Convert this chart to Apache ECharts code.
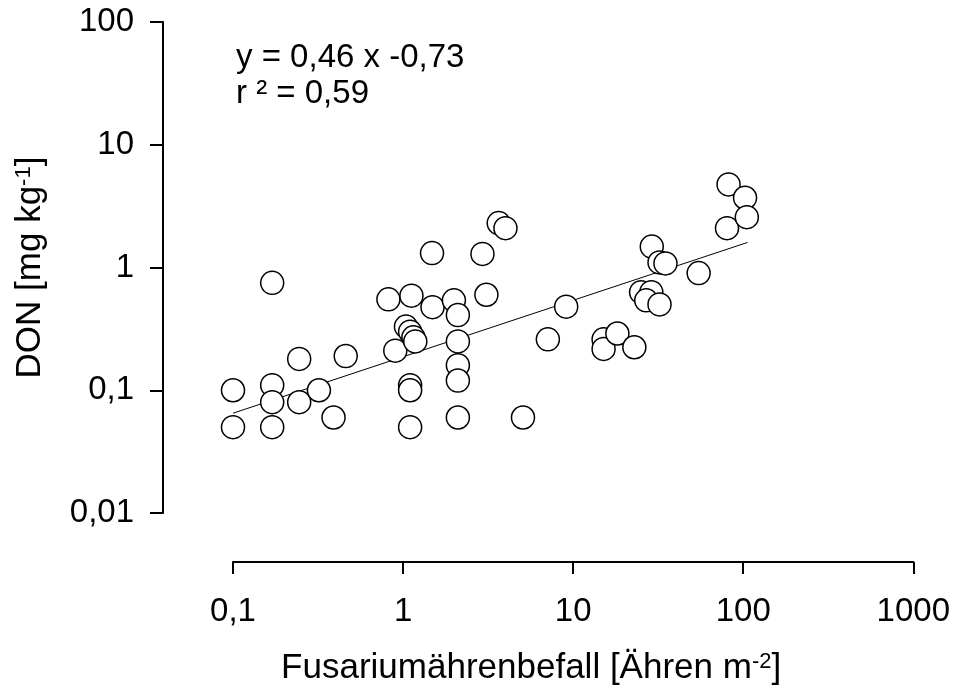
<!DOCTYPE html>
<html>
<head>
<meta charset="utf-8">
<script src="https://cdn.jsdelivr.net/npm/echarts@6/dist/echarts.min.js"></script>
<style>
  html, body { margin: 0; padding: 0; background: #fff; }
  #chart { width: 953px; height: 693px; }
</style>
</head>
<body>
<div id="chart"></div>
<script>
// Fusariumährenbefall (Ähren m-2) vs DON (mg/kg)
const befall = [0.1, 0.1, 0.17, 0.17, 0.17, 0.17, 0.245, 0.245, 0.32, 0.39, 0.46,
  0.82, 0.9, 1.04, 1.1, 1.15, 1.18, 1.12, 1.1, 1.1, 1.1, 1.48, 1.49, 1.99, 2.1, 2.1, 2.1,
  2.1, 2.1, 2.93, 3.09, 3.65, 4.0, 5.07, 7.1, 9.1, 15.1, 15.1, 18.2, 22.9, 25.1, 28.8,
  26.9, 32.2, 29, 32.2, 34.9, 54.7, 80.3, 82, 102.5, 105];
const don = [0.1, 0.05, 0.75, 0.11, 0.08, 0.05, 0.18, 0.08, 0.1, 0.06, 0.19,
  0.55, 0.21, 0.33, 0.3, 0.27, 0.25, 0.59, 0.11, 0.1, 0.05, 1.31, 0.475, 0.54, 0.41, 0.25, 0.16,
  0.12, 0.06, 1.29, 0.6, 2.3, 2.09, 0.06, 0.26, 0.48, 0.26, 0.217, 0.29, 0.224, 0.63, 0.63,
  0.54, 0.5, 1.48, 1.1, 1.08, 0.9, 2.09, 4.75, 3.7, 2.57];

// regression line endpoints (log-log fit)
const fitX = [0.1, 106];
const fitY = [0.065, 1.6];

const xTickLabels = ['0,1', '1', '10', '100', '1000'];
const yTickLabels = ['0,01', '0,1', '1', '10', '100'];

const font = "'Liberation Sans', Arial, sans-serif";

const chart = echarts.init(document.getElementById('chart'));

const option = {
    backgroundColor: '#fff',
    animation: false,
    grid: { left: 233, right: 39, top: 22, bottom: 180 },
    xAxis: {
        type: 'log',
        logBase: 10,
        min: 0.1,
        max: 1000,
        offset: 49,
        splitLine: { show: false },
        axisLine: { lineStyle: { color: '#000', width: 2 } },
        axisTick: { length: 12, lineStyle: { color: '#000', width: 2 } },
        minorTick: { show: false },
        axisLabel: {
            margin: 33,
            color: '#000',
            fontFamily: font,
            fontSize: 33,
            formatter: v => xTickLabels[Math.round(Math.log10(v)) + 1]
        },
        name: 'Fusariumährenbefall [Ähren m{sup|-2}]',
        nameLocation: 'middle',
        nameGap: 89,
        nameTextStyle: {
            color: '#000',
            fontFamily: font,
            fontSize: 35,
            padding: [0, 84, 0, 0],
            rich: {
                sup: { fontSize: 22, verticalAlign: 'top', fontFamily: font, color: '#000' }
            }
        }
    },
    yAxis: {
        type: 'log',
        logBase: 10,
        min: 0.01,
        max: 100,
        offset: 70,
        splitLine: { show: false },
        axisLine: { show: true, lineStyle: { color: '#000', width: 2 } },
        axisTick: { show: true, length: 13, lineStyle: { color: '#000', width: 2 } },
        minorTick: { show: false },
        axisLabel: {
            margin: 29,
            color: '#000',
            fontFamily: font,
            fontSize: 33,
            formatter: v => yTickLabels[Math.round(Math.log10(v)) + 2]
        },
        name: 'DON [mg kg{sup|-1}]',
        nameLocation: 'middle',
        nameGap: 115,
        nameTextStyle: {
            color: '#000',
            fontFamily: font,
            fontSize: 35,
            rich: {
                sup: { fontSize: 22, verticalAlign: 'top', fontFamily: font, color: '#000' }
            }
        }
    },
    graphic: [{
        type: 'text',
        left: 236,
        top: 40,
        style: {
            text: 'y = 0,46 x -0,73\nr ² = 0,59',
            fontFamily: font,
            fontSize: 33,
            lineHeight: 36,
            fill: '#000'
        }
    }],
    series: [
        {
            type: 'line',
            data: fitX.map((x, i) => [x, fitY[i]]),
            symbol: 'none',
            lineStyle: { color: '#000', width: 1 },
            z: 1
        },
        {
            type: 'scatter',
            data: befall.map((x, i) => [x, don[i]]),
            symbol: 'circle',
            symbolSize: 23,
            itemStyle: { color: '#fff', borderColor: '#000', borderWidth: 1.5, opacity: 1 },
            z: 2
        }
    ]
};

chart.setOption(option);
</script>
</body>
</html>
